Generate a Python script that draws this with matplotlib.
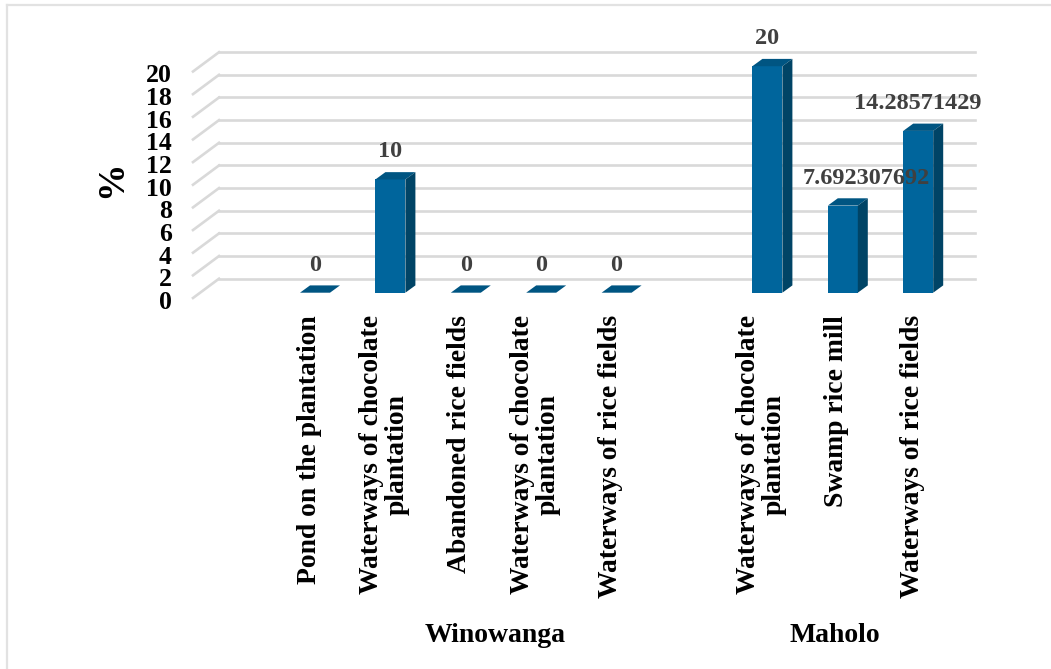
import numpy as np
from matplotlib import pyplot as plt
from matplotlib.lines import Line2D
from matplotlib.patches import Polygon
from matplotlib.transforms import Affine2D

categories = ["Pond on the plantation", "Waterways of chocolate\nplantation", "Abandoned rice fields",
              "Waterways of chocolate\nplantation", "Waterways of rice fields",
              "Waterways of chocolate\nplantation", "Swamp rice mill", "Waterways of rice fields"]
slots = [0, 1, 2, 3, 4, 6, 7, 8]
values = [0, 10, 0, 0, 0, 20, 7.692307692, 14.28571429]
value_labels = ["0", "10", "0", "0", "0", "20", "7.692307692", "14.28571429"]
y_ticks = [0, 2, 4, 6, 8, 10, 12, 14, 16, 18, 20]
groups = ["Winowanga", "Maholo"]
group_slots = [2, 7]

W, H = 1051, 669
plt.rcParams["font.family"] = ["Liberation Serif", "DejaVu Serif"]
plt.rcParams["font.weight"] = "bold"

fig = plt.figure(figsize=(W / 100, H / 100), dpi=100)
ax = fig.add_axes([193 / W, 1 - 298 / H, (975 - 193) / W, 226.5 / H])
ax.set_xlim((193 - 315) / 75.4, (975 - 315) / 75.4)
ax.set_ylim(0, 20)
for s in ax.spines.values():
    s.set_visible(False)
ax.patch.set_visible(False)

# outer frame, only left and top show in the picture
fig.add_artist(Line2D([7 / W, 7 / W], [0, 1 - 5 / H], color="#e2e2e2", lw=1.6))
fig.add_artist(Line2D([7 / W, 1], [1 - 5 / H, 1 - 5 / H], color="#e2e2e2", lw=1.6))

# pixel shifts for the fake 3d look
back = ax.transData + Affine2D().translate(26, 19.3)
floor = ax.transData + Affine2D().translate(0, 5.3)
grid = "#d9d9d9"
x0 = ax.get_xlim()[0]
x1 = ax.get_xlim()[1]
dx = 26 / 75.4
dy = 19.3 / 11.325
for v in y_ticks:
    ax.plot([x0, x0 + dx], [v, v + dy], color=grid, lw=1.9, clip_on=False, zorder=1)
    ax.plot([x0, x1 - dx], [v, v], color=grid, lw=1.9, clip_on=False, zorder=1, transform=back)

bar_w = 30 / 75.4
depth_x = 10 / 75.4
depth_y = 7.3 / 11.325
ax.bar(slots, values, width=bar_w, color="#00659c", zorder=3, transform=floor, clip_on=False)
for s, v in zip(slots, values):
    l = s - bar_w / 2
    r = s + bar_w / 2
    top = [(l, v), (r, v), (r + depth_x, v + depth_y), (l + depth_x, v + depth_y)]
    ax.add_patch(Polygon(top, closed=True, fc="#005582", ec="none", zorder=4, transform=floor, clip_on=False))
    if v > 0:
        side = [(r, 0), (r + depth_x, depth_y), (r + depth_x, v + depth_y), (r, v)]
        ax.add_patch(Polygon(side, closed=True, fc="#004466", ec="none", zorder=4, transform=floor, clip_on=False))

label_shift = [0, 0, 0, 0, 0, 0, 23, 0]
for s, v, t, sh in zip(slots, values, value_labels, label_shift):
    ax.annotate(t, xy=(s, v), xycoords=floor, xytext=(sh * 0.72, 27.5 * 0.72), textcoords="offset points",
                ha="center", va="center", fontsize=17.5, color="#404040", zorder=6, annotation_clip=False)

ax.set_yticks(y_ticks)
ax.set_yticklabels([str(v) for v in y_ticks], fontsize=18.5, color="black")
ax.tick_params(axis="y", length=0, pad=15.3)
for lab in ax.get_yticklabels():
    lab.set_transform(lab.get_transform() + Affine2D().translate(0, -2))
ax.set_xticks(slots)
ax.set_xticklabels([])
ax.tick_params(axis="x", length=0)
for s, t in zip(slots, categories):
    ax.annotate(t, xy=(s, 0), xytext=(-6 * 0.72, -17 * 0.72), textcoords="offset points", rotation=90,
                ha="center", va="top", ma="center", fontsize=19.9, color="black", linespacing=1.03,
                annotation_clip=False)

ax.annotate("%", xy=(0, 10), xycoords=("axes fraction", "data"), xytext=(-81 * 0.72, 4), textcoords="offset points",
            rotation=90, ha="center", va="center", fontsize=27, color="black")

group_shift = [29, -8]
for s, t, sh in zip(group_slots, groups, group_shift):
    ax.annotate(t, xy=(s, 0), xytext=(sh * 0.72, -337 * 0.72), textcoords="offset points",
                ha="center", va="center", fontsize=20, color="black", annotation_clip=False)

fig.savefig("out.png", dpi=100)
